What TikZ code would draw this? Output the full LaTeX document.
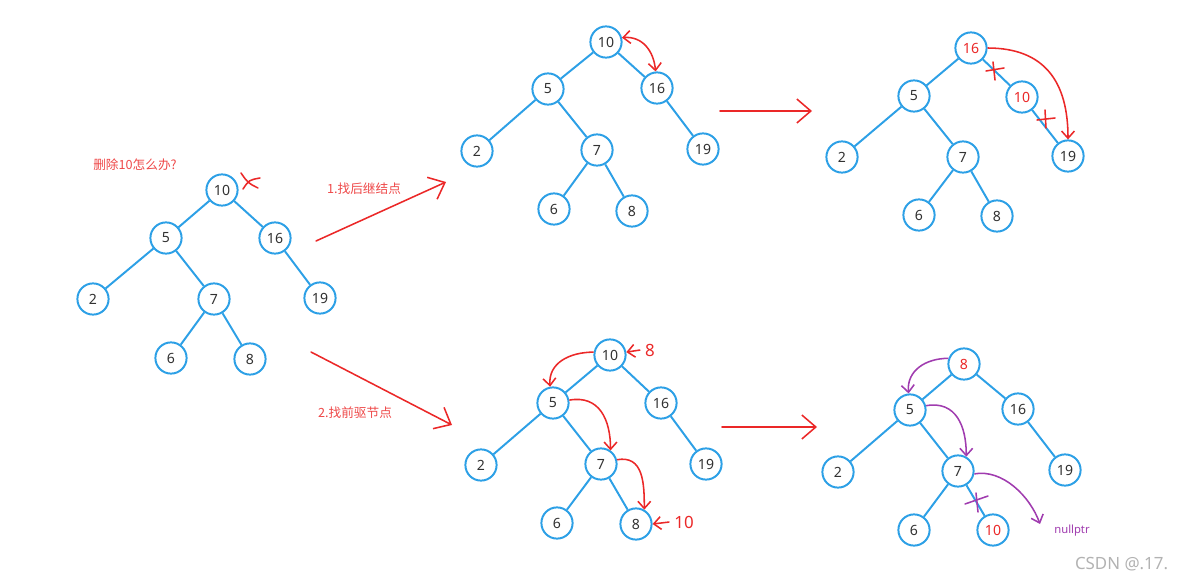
\documentclass[tikz,border=0pt]{standalone}
\usepackage{fontspec}
\setmainfont{Noto Sans}
\newfontfamily\cjk{Noto Sans CJK SC}
\usetikzlibrary{arrows.meta}
\definecolor{kek}{RGB}{45,160,230}
\definecolor{piros}{RGB}{235,40,40}
\definecolor{lila}{RGB}{160,60,175}
\definecolor{szoveg}{RGB}{50,50,50}
\tikzset{
  csucs/.style={circle,draw=kek,line width=1.4pt,fill=white,minimum size=0.78cm,inner sep=0pt,
                text=szoveg,font=\normalsize},
  el/.style={draw=kek,line width=1.4pt},
  nagynyil/.style={draw=piros,line width=1.1pt,line cap=round,-{Straight Barb[length=3.5mm,width=6mm]}},
  rnyil/.style={draw=piros,line width=1.1pt,-{Straight Barb[length=1.8mm,width=3.2mm]}},
  lnyil/.style={draw=lila,line width=1.1pt,-{Straight Barb[length=1.8mm,width=3.2mm]}},
  jel/.style={line width=1.1pt,line cap=round},
  cimke/.style={text=piros!85!white,font=\cjk\small},
}
\begin{document}
\begin{tikzpicture}[x=0.025cm,y=-0.025cm]
  \useasboundingbox (0,0) rectangle (1177,585);
  % eredeti fa
  \node[cimke] (kerdes) at (135,165) {删除10怎么办?};
  \node[csucs] (a10) at (222,190) {10};
  \node[csucs] (a5) at (166,238) {5};  \node[csucs] (a16) at (275,238) {16};
  \node[csucs] (a2) at (93,299) {2};   \node[csucs] (a7) at (214,299) {7};
  \node[csucs] (a19) at (320,298) {19};
  \node[csucs] (a6) at (171,358) {6};  \node[csucs] (a8) at (250,359) {8};
  \draw[el] (a10) -- (a5); \draw[el] (a10) -- (a16); \draw[el] (a5) -- (a2); \draw[el] (a5) -- (a7);
  \draw[el] (a7) -- (a6); \draw[el] (a7) -- (a8); \draw[el] (a16) -- (a19);
  \draw[jel,piros] (241,173) .. controls (248,183) .. (258,188);
  \draw[jel,piros] (243,189) .. controls (249,180) .. (260,178);

  % nyilak a ket modszerhez
  \coordinate (p1) at (316,241); \coordinate (p2) at (446,182);
  \coordinate (q1) at (311,352); \coordinate (q2) at (452,425);
  \draw[nagynyil] (p1) -- (p2); \draw[nagynyil] (q1) -- (q2);
  \node[cimke] (m1) at (364,189) {1.找后继结点};
  \node[cimke] (m2) at (355,413) {2.找前驱节点};

  % rakovetkezo, 1. lepes
  \node[csucs] (b10) at (606,42) {10};
  \node[csucs] (b5) at (548,89) {5};   \node[csucs] (b16) at (657,88) {16};
  \node[csucs] (b2) at (477,151) {2};  \node[csucs] (b7) at (597,150) {7};
  \node[csucs] (b19) at (703,149) {19};
  \node[csucs] (b6) at (554,209) {6};  \node[csucs] (b8) at (632,211) {8};
  \draw[el] (b10) -- (b5); \draw[el] (b10) -- (b16); \draw[el] (b5) -- (b2); \draw[el] (b5) -- (b7);
  \draw[el] (b7) -- (b6); \draw[el] (b7) -- (b8); \draw[el] (b16) -- (b19);
  \draw[rnyil,{Straight Barb[length=1.8mm,width=3.2mm]}-{Straight Barb[length=1.8mm,width=3.2mm]}]
    (b10.15) to[out=5,in=95,looseness=1.1] (b16.95);

  \coordinate (p3) at (720,111); \coordinate (p4) at (812,111);
  \draw[nagynyil] (p3) -- (p4);

  % rakovetkezo, 2. lepes
  \node[csucs] (c16) at (971,48) {\color{piros}16};
  \node[csucs] (c5) at (914,96) {5};   \node[csucs] (c10) at (1022,97) {\color{piros}10};
  \node[csucs] (c2) at (842,157) {2};  \node[csucs] (c7) at (963,157) {7};
  \node[csucs] (c19) at (1068,156) {19};
  \node[csucs] (c6) at (919,215) {6};  \node[csucs] (c8) at (997,216) {8};
  \draw[el] (c16) -- (c5); \draw[el] (c16) -- (c10); \draw[el] (c10) -- (c19); \draw[el] (c5) -- (c2);
  \draw[el] (c5) -- (c7); \draw[el] (c7) -- (c6); \draw[el] (c7) -- (c8);
  \draw[jel,piros] (986,71) -- (1004,68); \draw[jel,piros] (993,62) -- (995,80);
  \draw[jel,piros] (1037,120) -- (1055,118); \draw[jel,piros] (1045,110) -- (1046,128);
  \draw[rnyil] (c16.east) to[out=0,in=90,looseness=1.2] (c19.north);

  % megelozo, 1. lepes
  \node[csucs] (d10) at (610,355) {10};
  \node[csucs] (d5) at (553,403) {5};  \node[csucs] (d16) at (661,403) {16};
  \node[csucs] (d2) at (481,465) {2};  \node[csucs] (d7) at (601,464) {7};
  \node[csucs] (d19) at (706,464) {19};
  \node[csucs] (d6) at (557,523) {6};  \node[csucs] (d8) at (636,524) {8};
  \draw[el] (d10) -- (d5); \draw[el] (d10) -- (d16); \draw[el] (d5) -- (d2); \draw[el] (d5) -- (d7);
  \draw[el] (d7) -- (d6); \draw[el] (d7) -- (d8); \draw[el] (d16) -- (d19);
  \draw[rnyil] (d10.170) to[out=180,in=95,looseness=1.1] (d5.100);
  \draw[rnyil] (d5.10) to[out=10,in=90,looseness=1.2] (d7.55);
  \draw[rnyil] (d7.15) to[out=10,in=90,looseness=1.2] (d8.60);
  \node[text=piros,font=\large] (n8) at (650,350) {8};
  \node[text=piros,font=\large] (n10) at (684,522) {10};
  \draw[rnyil] (n8.west) -- (d10.10);
  \draw[rnyil] (n10.west) -- (d8.east);

  \coordinate (q3) at (722,427); \coordinate (q4) at (817,427);
  \draw[nagynyil] (q3) -- (q4);

  % megelozo, 2. lepes
  \node[csucs] (e8) at (964,364) {\color{piros}8};
  \node[csucs] (e5) at (910,410) {5};  \node[csucs] (e16) at (1018,409) {16};
  \node[csucs] (e2) at (838,472) {2};  \node[csucs] (e7) at (958,471) {7};
  \node[csucs] (e19) at (1065,470) {19};
  \node[csucs] (e6) at (914,530) {6};  \node[csucs] (e10) at (993,530) {\color{piros}10};
  \draw[el] (e8) -- (e5); \draw[el] (e8) -- (e16); \draw[el] (e5) -- (e2); \draw[el] (e5) -- (e7);
  \draw[el] (e7) -- (e6); \draw[el] (e7) -- (e10); \draw[el] (e16) -- (e19);
  \draw[lnyil] (e8.160) to[out=180,in=95,looseness=1.1] (e5.95);
  \draw[lnyil] (e5.15) to[out=10,in=90,looseness=1.2] (e7.60);
  \node[text=lila,font=\footnotesize] (np) at (1072,531) {nullptr};
  \coordinate (np0) at (1040,524);
  \draw[lnyil] (e7.-10) to[out=10,in=110,looseness=0.9] (np0);
  \draw[jel,lila] (965,504) -- (988,496); \draw[jel,lila] (976,493) -- (978,512);

  \node[text=black!30,font=\large,anchor=east] (csdn) at (1173,564) {CSDN @.17.};
\end{tikzpicture}
\end{document}
